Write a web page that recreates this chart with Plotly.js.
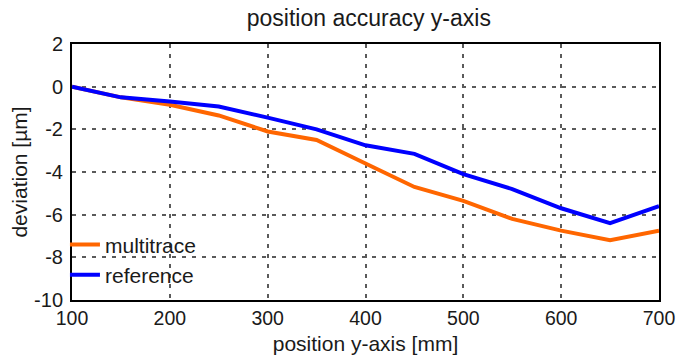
<!DOCTYPE html>
<html><head><meta charset="utf-8">
<script src="https://cdn.plot.ly/plotly-3.0.1.min.js"></script>
<style>html,body{margin:0;padding:0;background:#fff}#chart{width:678px;height:358px}</style>
</head><body><div id="chart"></div>
<script>
const positions = [100,150,200,250,300,350,400,450,500,550,600,650,700];
const multitrace = [0,-0.5,-0.85,-1.35,-2.1,-2.5,-3.6,-4.7,-5.35,-6.2,-6.75,-7.2,-6.75];
const reference = [0,-0.5,-0.7,-0.93,-1.45,-2.0,-2.75,-3.15,-4.1,-4.8,-5.7,-6.4,-5.6];
const xTicks = [100,200,300,400,500,600,700];
const yTicks = [2,0,-2,-4,-6,-8,-10];

const font = {family:'Liberation Sans, Arial, sans-serif', color:'#1a1a1a', size:18};
const traces = [
  {x:positions, y:multitrace, name:'multitrace', mode:'lines', line:{color:'#ff6600', width:4}},
  {x:positions, y:reference, name:'reference', mode:'lines', line:{color:'#0000ff', width:4}}
];
const layout = {
  width:678, height:358,
  margin:{l:72, r:19, t:44, b:58},
  paper_bgcolor:'#fff', plot_bgcolor:'#fff',
  font:font,
  title:{text:'position accuracy y-axis', x:0.544, xanchor:'center', y:0.95, yanchor:'middle', font:{...font, size:23}},
  xaxis:{range:[100,700], tickvals:xTicks, ticktext:xTicks.map(String),
    showgrid:true, gridcolor:'#5a5a5a', griddash:'4px,6px', gridwidth:2,
    showline:true, linecolor:'#000', linewidth:2, mirror:true, zeroline:false,
    ticks:'', tickfont:{...font, size:19.5},
    title:{text:'position y-axis [mm]', font:{...font, size:21}, standoff:8}},
  yaxis:{range:[-10,2], tickvals:yTicks, ticktext:yTicks.map(String),
    showgrid:true, gridcolor:'#5a5a5a', griddash:'4px,6px', gridwidth:2,
    showline:true, linecolor:'#000', linewidth:2, mirror:true, zeroline:false,
    ticks:'', tickfont:{...font, size:20}, ticklabelstandoff:3,
    title:{text:'deviation [µm]', font:{...font, size:21}, standoff:1}},
  showlegend:true,
  legend:{x:-0.012, y:0.018, xanchor:'left', yanchor:'bottom', bgcolor:'rgba(255,255,255,0)',
    font:{...font, size:21}, itemwidth:30, tracegroupgap:0}
};
Plotly.newPlot('chart', traces, layout, {displayModeBar:false, staticPlot:true});
</script></body></html>
